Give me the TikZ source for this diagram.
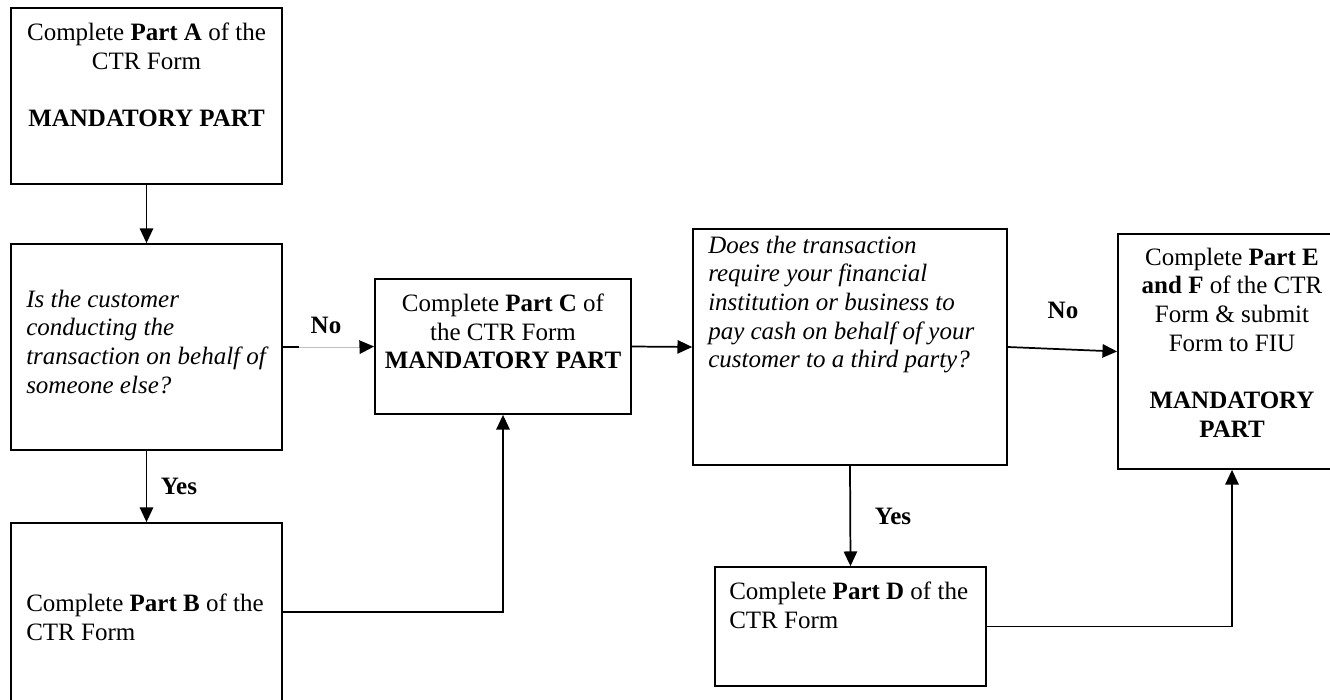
\documentclass[tikz,border=0pt]{standalone}
\usepackage{fontspec}
\setmainfont{Liberation Serif}
\usetikzlibrary{arrows.meta}
\newcommand\fs{\fontsize{18.75}{21.5}\selectfont}
\tikzset{
  box/.style={draw, line width=1.3pt, rectangle, inner sep=0pt},
  txt/.style={inner sep=0pt, font=\fs},
  lbl/.style={inner sep=0pt, font=\fs\bfseries},
  conn/.style={line width=1.3pt},
  tip/.style={-{Triangle[length=11pt,width=10pt]}},
  faint/.style={line width=0.6pt, black!25}
}
\begin{document}
\begin{tikzpicture}[x=0.75pt,y=-0.75pt]
\useasboundingbox (0,0) rectangle (1330,699);
\clip (0,0) rectangle (1330,699);
% boxes
\node[box, minimum width=203.25pt, minimum height=132pt] (A) at (146.5,96) {};
\node[box, minimum width=203.25pt, minimum height=154.5pt] (Q1) at (146.5,347) {};
\node[box, minimum width=203.25pt, minimum height=133.5pt] (B) at (146.5,612) {};
\node[box, minimum width=192pt, minimum height=101.25pt] (C) at (503,346.5) {};
\node[box, minimum width=235.5pt, minimum height=177pt] (Q2) at (850,347) {};
\node[box, minimum width=203.25pt, minimum height=89.25pt] (D) at (850.5,626.5) {};
\node[box, minimum width=171pt, minimum height=176.25pt] (EF) at (1232,351.5) {};
% texts
\node[txt, align=center, anchor=north] (Atxt) at (146.5,22.5)
  {Complete \textbf{Part A} of the\\CTR Form\\[21.5pt]\textbf{MANDATORY PART}};
\node[txt, align=left, anchor=north west, font=\fs\itshape] (Q1txt) at (26,289.5)
  {Is the customer\\conducting the\\transaction on behalf of\\someone else?};
\node[txt, align=left, anchor=north west] (Btxt) at (26,593.5)
  {Complete \textbf{Part B} of the\\CTR Form};
\node[txt, align=center, anchor=north] (Ctxt) at (503,293.5)
  {Complete \textbf{Part C} of\\the CTR Form\\\textbf{MANDATORY PART}};
\node[txt, align=left, anchor=north west, font=\fs\itshape] (Q2txt) at (708,235.5)
  {Does the transaction\\require your financial\\institution or business to\\pay cash on behalf of your\\customer to a third party?};
\node[txt, align=left, anchor=north west] (Dtxt) at (729,581.5)
  {Complete \textbf{Part D} of the\\CTR Form};
\node[txt, align=center, anchor=north] (EFtxt) at (1232,247.5)
  {Complete \textbf{Part E}\\\textbf{and F} of the CTR\\Form \& submit\\Form to FIU\\[21.5pt]\textbf{MANDATORY}\\\textbf{PART}};
% labels
\node[lbl] (no1) at (326,325) {No};
\node[lbl] (no2) at (1063,310) {No};
\node[lbl] (yes1) at (179,486) {Yes};
\node[lbl] (yes2) at (893,516) {Yes};
% connectors
\draw[conn, tip] (A.south) -- (Q1.north);
\coordinate (n1) at (299,347);
\coordinate (n2) at (362,347);
\draw[conn] (Q1.east) -- (n1);
\draw[faint] (n1) -- (n2);
\draw[conn, tip] (n2) -- (C.west);
\draw[conn, tip] (Q1.south) -- (B.north);
\draw[conn, tip] (B.east) -| (C.south);
\draw[conn, tip] (C.east) -- (Q2.west);
\draw[conn, tip] (Q2.east) -- (EF.west);
\draw[conn, tip] (Q2.south) -- (D.north);
\draw[conn, tip] (D.east) -| (EF.south);
\end{tikzpicture}
\end{document}
